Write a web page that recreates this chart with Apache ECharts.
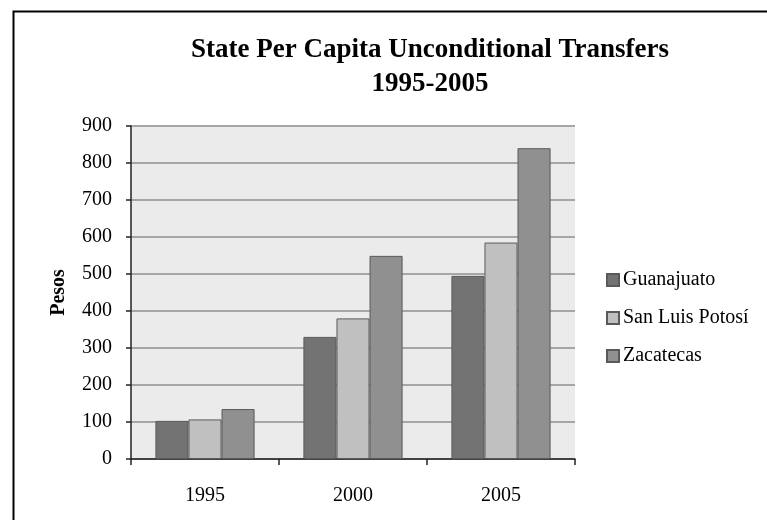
<!DOCTYPE html>
<html>
<head>
<meta charset="utf-8">
<script src="https://cdn.jsdelivr.net/npm/echarts@6/dist/echarts.min.js"></script>
<style>html,body{margin:0;padding:0;background:#fff;}#c{width:767px;height:520px;}</style>
</head>
<body>
<div id="c"></div>
<script>
const categories = ['1995', '2000', '2005'];
const guanajuato = [103, 330, 495];
const sanLuisPotosi = [107, 380, 585];
const zacatecas = [135, 549, 840];
const seriesNames = ['Guanajuato', 'San Luis Potosí', 'Zacatecas'];

const font = '"Liberation Serif", "Times New Roman", serif';
const chart = echarts.init(document.getElementById('c'));
function bar(name, data, color) {
  return {
    name: name, type: 'bar', data: data,
    barGap: '0%', barCategoryGap: '33%',
    itemStyle: { color: color, borderColor: '#5a5a5a', borderWidth: 1 }
  };
}
chart.setOption({
  animation: false,
  backgroundColor: '#fff',
  graphic: [{
    type: 'rect', left: 11, top: 9, shape: { width: 800, height: 600 },
    style: { fill: 'none', stroke: '#000', lineWidth: 2 }
  }],
  title: {
    text: 'State Per Capita Unconditional Transfers\n1995-2005',
    left: 425, top: 28, textAlign: 'center',
    textStyle: { fontFamily: font, fontWeight: 'bold', fontSize: 27, color: '#000', lineHeight: 34 }
  },
  legend: {
    orient: 'vertical', left: 601, top: 265,
    itemWidth: 12, itemHeight: 12, itemGap: 18,
    icon: 'rect',
    textStyle: { fontFamily: font, fontSize: 20, color: '#000', padding: [0, 0, 0, -1] },
    data: seriesNames
  },
  grid: { left: 131, right: 192, top: 126, bottom: 61, backgroundColor: '#ebebeb', show: true, borderWidth: 0 },
  xAxis: {
    type: 'category', data: categories,
    axisLine: { lineStyle: { color: '#222', width: 1.5 } },
    axisTick: { show: true, length: 6, lineStyle: { color: '#222', width: 1.5 } },
    axisLabel: { fontFamily: font, fontSize: 20, color: '#000', margin: 27 }
  },
  yAxis: {
    type: 'value', min: 0, max: 900, interval: 100,
    name: 'Pesos', nameLocation: 'middle', nameGap: 62, nameRotate: 90,
    nameTextStyle: { fontFamily: font, fontSize: 20, fontWeight: 'bold', color: '#000' },
    axisLine: { show: true, lineStyle: { color: '#222', width: 1.5 } },
    axisTick: { show: true, length: 5, lineStyle: { color: '#222', width: 1.5 } },
    axisLabel: { fontFamily: font, fontSize: 20, color: '#000', margin: 19 },
    splitLine: { lineStyle: { color: '#a6a6a6', width: 2 } }
  },
  series: [
    bar(seriesNames[0], guanajuato, '#737373'),
    bar(seriesNames[1], sanLuisPotosi, '#c0c0c0'),
    bar(seriesNames[2], zacatecas, '#909090')
  ]
});
</script>
</body>
</html>
